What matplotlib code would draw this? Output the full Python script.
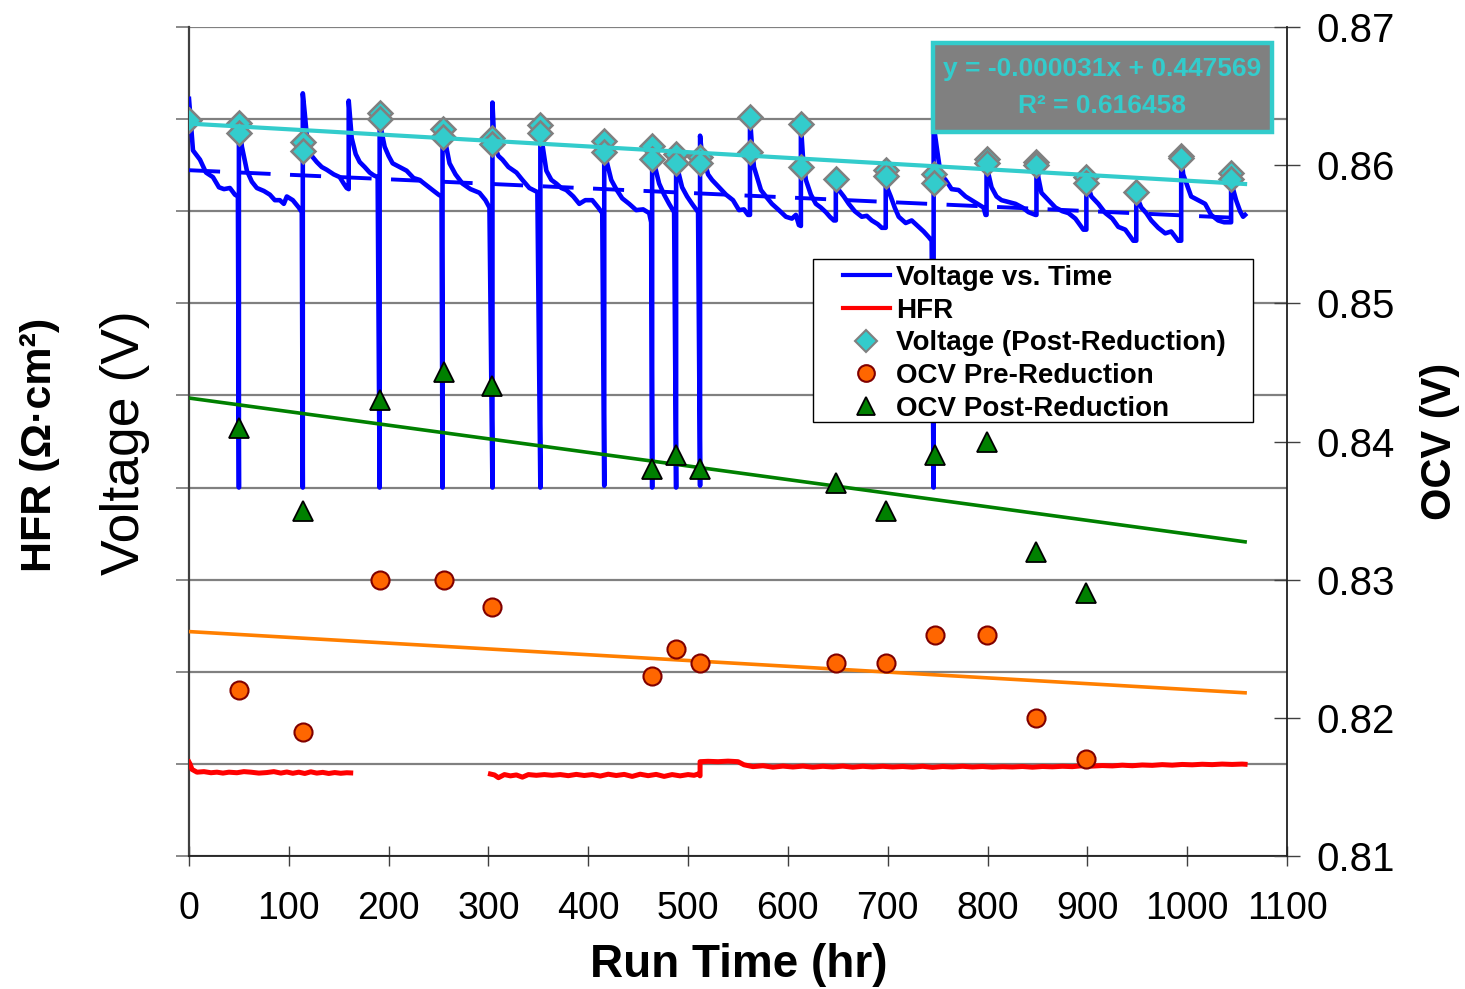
import numpy as np
import matplotlib
matplotlib.use("Agg")
import matplotlib.pyplot as plt
from matplotlib.lines import Line2D
from matplotlib.patches import Rectangle

plt.rcParams['font.family'] = ['Liberation Sans', 'DejaVu Sans']

# ---------------- data ----------------
volt_t = [0, 4, 11, 17, 24, 30, 35, 41, 46, 49, 50, 50,
          53, 58, 63, 68, 75, 81, 86, 91, 95, 98, 104, 110, 113, 114, 114,
          116, 119, 123, 128, 133, 138, 145, 151, 155, 158, 160, 160,
          163, 167, 171, 176, 181, 185, 189, 191, 191,
          193, 196, 200, 204, 211, 218, 225, 231, 238, 244, 250, 253, 254, 254,
          256, 261, 267, 274, 282, 291, 297, 301, 304, 304,
          306, 310, 314, 320, 328, 334, 341, 345, 349, 352, 352,
          353, 358, 363, 368, 373, 378, 385, 391, 397, 404, 410, 414, 416, 416,
          418, 423, 428, 434, 441, 448, 455, 461, 463, 464, 464,
          466, 471, 476, 481, 486, 488, 488,
          489, 494, 499, 504, 510, 512, 512,
          514, 516, 520, 524, 531, 538, 545, 551, 556, 560, 562, 562,
          564, 566, 573, 578, 584, 591, 598, 604, 608, 611, 613, 613,
          615, 618, 623, 628, 633, 638, 642, 646, 648, 648,
          651, 656, 661, 667, 674, 679, 684, 690, 694, 698, 698,
          700, 703, 707, 711, 718, 724, 730, 736, 741, 744, 746, 746,
          749, 753, 758, 764, 771, 778, 784, 790, 796, 798, 799, 799,
          801, 804, 809, 814, 821, 828, 835, 841, 848, 849, 849,
          851, 854, 861, 868, 875, 881, 888, 896, 899, 899,
          901, 904, 911, 918, 925, 931, 938, 946, 949, 949,
          951, 954, 959, 964, 971, 978, 984, 991, 994, 994,
          996, 998, 1004, 1011, 1018, 1024, 1031, 1037, 1043, 1044, 1044,
          1046, 1049, 1053, 1056, 1058]
volt_v = [0.461, 0.433, 0.428, 0.421, 0.4185, 0.413, 0.412, 0.4126, 0.409, 0.408, 0.250, 0.448,
          0.435, 0.422, 0.416, 0.4126, 0.411, 0.409, 0.406, 0.406, 0.404, 0.408, 0.406, 0.402, 0.3995, 0.250, 0.464,
          0.453, 0.435, 0.430, 0.4267, 0.424, 0.4225, 0.420, 0.4185, 0.415, 0.4126, 0.412, 0.460,
          0.4397, 0.431, 0.4267, 0.424, 0.421, 0.4195, 0.4185, 0.250, 0.4505,
          0.443, 0.435, 0.430, 0.426, 0.424, 0.422, 0.418, 0.417, 0.414, 0.4115, 0.409, 0.408, 0.250, 0.4446,
          0.4397, 0.426, 0.420, 0.415, 0.412, 0.410, 0.406, 0.402, 0.250, 0.459,
          0.435, 0.430, 0.428, 0.424, 0.421, 0.417, 0.4126, 0.4115, 0.4104, 0.250, 0.4468,
          0.440, 0.422, 0.417, 0.415, 0.4126, 0.4115, 0.408, 0.404, 0.406, 0.406, 0.402, 0.399, 0.251, 0.438,
          0.428, 0.417, 0.412, 0.407, 0.404, 0.4006, 0.401, 0.399, 0.394, 0.250, 0.435,
          0.426, 0.415, 0.409, 0.404, 0.3995, 0.250, 0.431,
          0.424, 0.413, 0.408, 0.404, 0.3995, 0.251, 0.441,
          0.430, 0.428, 0.420, 0.417, 0.413, 0.409, 0.406, 0.4006, 0.401, 0.398, 0.398, 0.451,
          0.435, 0.424, 0.4115, 0.408, 0.404, 0.4006, 0.397, 0.396, 0.398, 0.3925, 0.392, 0.447,
          0.430, 0.417, 0.409, 0.404, 0.402, 0.3995, 0.397, 0.395, 0.395, 0.418,
          0.4115, 0.408, 0.404, 0.400, 0.397, 0.3975, 0.395, 0.393, 0.391, 0.391, 0.4195,
          0.412, 0.408, 0.402, 0.397, 0.3936, 0.395, 0.392, 0.389, 0.386, 0.384, 0.250, 0.447,
          0.435, 0.420, 0.417, 0.412, 0.4115, 0.408, 0.406, 0.404, 0.402, 0.398, 0.398, 0.4283,
          0.420, 0.413, 0.408, 0.406, 0.405, 0.404, 0.402, 0.3995, 0.398, 0.398, 0.4267,
          0.418, 0.410, 0.406, 0.402, 0.400, 0.399, 0.396, 0.390, 0.390, 0.4185,
          0.413, 0.408, 0.404, 0.399, 0.396, 0.3915, 0.390, 0.384, 0.384, 0.4104,
          0.406, 0.402, 0.399, 0.395, 0.391, 0.388, 0.389, 0.384, 0.384, 0.430,
          0.420, 0.417, 0.408, 0.406, 0.404, 0.398, 0.395, 0.394, 0.394, 0.394, 0.4207,
          0.412, 0.406, 0.400, 0.397, 0.398]

hfr_t = [0, 1, 3, 8, 15, 22, 28, 34, 40, 48, 55, 62, 70, 78, 85, 92, 98, 104, 110, 116,
         122, 128, 134, 140, 146, 152, 158, 162, 230,
         302, 306, 310, 316, 322, 328, 334, 340, 348, 356, 364, 372, 380, 388, 396, 404,
         412, 420, 428, 436, 444, 452, 460, 468, 476, 484, 492, 500, 506, 510, 512,
         512, 520, 530, 540, 550, 556, 565, 575, 585, 595, 605, 615, 625, 635, 645, 655,
         665, 675, 685, 695, 705, 715, 725, 735, 745, 755, 765, 775, 785, 795, 805, 815,
         825, 835, 845, 855, 865, 875, 885, 895, 905, 915, 925, 935, 945, 955, 965, 975,
         985, 995, 1005, 1015, 1025, 1035, 1045, 1055, 1058]
hfr_v = [0.101, 0.100, 0.097, 0.0955, 0.0958, 0.0952, 0.0955, 0.095, 0.0955, 0.0952, 0.0958,
         0.0955, 0.095, 0.0953, 0.0958, 0.095, 0.0956, 0.0949, 0.0955, 0.0948, 0.0957, 0.095,
         0.0954, 0.0948, 0.0953, 0.0949, 0.0952, 0.0951, np.nan,
         0.0945, 0.094, 0.0925, 0.0942, 0.0935, 0.094, 0.0928, 0.0942, 0.0938, 0.0942, 0.0938,
         0.0942, 0.0936, 0.0943, 0.0937, 0.0942, 0.0934, 0.0944, 0.0937, 0.0943, 0.0932,
         0.0944, 0.0936, 0.0943, 0.0932, 0.0942, 0.0935, 0.0942, 0.0938, 0.0945, 0.0935,
         0.1012, 0.1014, 0.1012, 0.1015, 0.1012, 0.0995, 0.0985, 0.099, 0.0982, 0.0988,
         0.0983, 0.0988, 0.0982, 0.0987, 0.0983, 0.0988, 0.0982, 0.0987, 0.0983, 0.0987,
         0.0983, 0.0986, 0.0982, 0.0987, 0.0981, 0.0986, 0.0983, 0.0987, 0.0983, 0.0986,
         0.0982, 0.0985, 0.0983, 0.0986, 0.0982, 0.0986, 0.0984, 0.0987, 0.0985, 0.099,
         0.0988, 0.0991, 0.0989, 0.0993, 0.099, 0.0994, 0.0992, 0.0996, 0.0993, 0.0997,
         0.0995, 0.0998, 0.0996, 0.0999, 0.0997, 0.0999, 0.0998]

post_red_t = [0, 50, 50, 114, 114, 191, 191, 254, 254, 304, 304, 352, 352, 416, 416,
              464, 464, 488, 488, 512, 512, 562, 562, 613, 613, 648, 698, 698, 746, 746,
              799, 799, 849, 849, 899, 899, 949, 994, 994, 1044, 1044]
post_red_v = [0.4495, 0.448, 0.4424, 0.4376, 0.4327, 0.4533, 0.450, 0.4446, 0.4403, 0.440,
              0.4365, 0.4468, 0.4424, 0.4381, 0.4321, 0.4354, 0.4283, 0.431, 0.4262, 0.4294,
              0.4262, 0.4511, 0.432, 0.4473, 0.424, 0.4175, 0.4224, 0.4191, 0.4202, 0.4153,
              0.4283, 0.4262, 0.4267, 0.4251, 0.4185, 0.4153, 0.4104, 0.430, 0.4289, 0.4207,
              0.4175]

ocv_t = [50, 114, 191, 255, 304, 464, 488, 512, 648, 698, 747, 799, 849, 899]
ocv_pre = [0.822, 0.819, 0.830, 0.830, 0.828, 0.823, 0.825, 0.824, 0.824, 0.824,
           0.826, 0.826, 0.820, 0.817]
ocv_post = [0.841, 0.835, 0.843, 0.845, 0.844, 0.838, 0.839, 0.838, 0.837, 0.835,
            0.839, 0.840, 0.832, 0.829]

trend_slope = -0.000031
trend_intercept = 0.447569
trend_r2 = 0.616458

x_ticks = [0, 100, 200, 300, 400, 500, 600, 700, 800, 900, 1000, 1100]
left_ticks = [0.05, 0.10, 0.15, 0.20, 0.25, 0.30, 0.35, 0.40, 0.45, 0.50]
ocv_ticks = [0.81, 0.82, 0.83, 0.84, 0.85, 0.86, 0.87]

legend_labels = ['Voltage vs. Time', 'HFR', 'Voltage (Post-Reduction)',
                 'OCV Pre-Reduction', 'OCV Post-Reduction']

# ---------------- figure ----------------
W, H = 1465, 989
fig = plt.figure(figsize=(W / 100, H / 100), dpi=100)
ax = fig.add_axes([189 / W, 1 - 856 / H, 1098 / W, 829 / H])
ax.set_xlim(0, 1100)
ax.set_ylim(0.05, 0.50)
ax.set_yticks(left_ticks)
ax.set_yticklabels([])
ax.set_xticks(x_ticks)
ax.grid(axis='y', color='#808080', lw=1.6)
ax.set_axisbelow(True)
ax.tick_params(axis='y', direction='out', length=9.5, color='#808080', width=1.3)
ax.tick_params(axis='x', direction='inout', length=15, width=1.0, color='#404040',
               labelsize=27, pad=18)
for s in ['top', 'right']:
    ax.spines[s].set_visible(False)
ax.spines['left'].set_color('#404040')
ax.spines['left'].set_linewidth(1.6)
ax.spines['bottom'].set_color('#202020')
ax.spines['bottom'].set_linewidth(1.3)

t_end = max(volt_t)
x_fit = np.array([0, t_end])

# Voltage trace
ax.plot(volt_t, volt_v, color='#0000FF', lw=3.3, zorder=3, solid_joinstyle='round')
# HFR
ax.plot(hfr_t, hfr_v, color='#FF0000', lw=3.6, zorder=3)
# Voltage trend (dashed)
t_grid = np.arange(0, t_end + 1)
v_grid = np.interp(t_grid, volt_t, volt_v)
vc = np.polyfit(t_grid, v_grid, 1)
ax.plot(x_fit, np.polyval(vc, x_fit), color='#0000FF', lw=2.8, dashes=(8, 5), zorder=3)
# post-reduction voltage
ax.plot(post_red_t, post_red_v, ls='none', marker='D', ms=12.5, mfc='#33CCCC',
        mec='#808080', mew=1.8, zorder=4)
ax.plot(x_fit, trend_intercept + trend_slope * x_fit, color='#33CCCC', lw=3, zorder=5)

ax2 = ax.twinx()
ax2.set_ylim(0.81, 0.87)
ax2.set_yticks(ocv_ticks)
ax2.set_yticklabels([f"{v:.2f}" for v in ocv_ticks])
ax2.tick_params(axis='y', direction='inout', length=19, width=1.0, color='#404040',
                labelsize=29, pad=12)
for s in ['top', 'left', 'bottom']:
    ax2.spines[s].set_visible(False)
ax2.spines['right'].set_color('#202020')
ax2.spines['right'].set_linewidth(1.3)

gc = np.polyfit(ocv_t, ocv_post, 1)
oc = np.polyfit(ocv_t, ocv_pre, 1)
ax2.plot(x_fit, np.polyval(gc, x_fit), color='#008000', lw=2.6, zorder=2)
ax2.plot(x_fit, np.polyval(oc, x_fit), color='#FF7F00', lw=2.6, zorder=2)
ax2.plot(ocv_t, ocv_pre, ls='none', marker='o', ms=13, mfc='#FF6600', mec='#800000',
         mew=1.5, zorder=3)
ax2.plot(ocv_t, ocv_post, ls='none', marker='^', ms=14, mfc='#008000', mec='#000000',
         mew=1.3, zorder=3)

# legend: frame drawn separately, entries placed inside
frame = Rectangle((813 / W, 1 - 422 / H), 440 / W, 163 / H, transform=fig.transFigure,
                  facecolor='white', edgecolor='black', lw=1.0, zorder=19, clip_on=False)
ax2.add_patch(frame)
handles = [
    Line2D([], [], color='#0000FF', lw=3),
    Line2D([], [], color='#FF0000', lw=3),
    Line2D([], [], ls='none', marker='D', ms=11, mfc='#33CCCC', mec='#808080', mew=1.5),
    Line2D([], [], ls='none', marker='o', ms=12, mfc='#FF6600', mec='#800000', mew=1.5),
    Line2D([], [], ls='none', marker='^', ms=13, mfc='#008000', mec='#000000', mew=1.3),
]
leg = ax2.legend(handles, legend_labels, loc='upper left',
                 bbox_to_anchor=(843 / W, 1 - 265 / H), bbox_transform=fig.transFigure,
                 borderaxespad=0, frameon=False, prop={'weight': 'bold', 'size': 20},
                 labelspacing=0.24, handlelength=1.69, handletextpad=0.22,
                 borderpad=0)
leg.set_zorder(20)

# equation box
rect = Rectangle(((933 - 189) / 1098, (856 - 132) / 829), 339 / 1098, 89 / 829,
                 transform=ax2.transAxes, facecolor='#808080', edgecolor='#33CCCC',
                 lw=3.2, zorder=15, clip_on=False)
ax2.add_patch(rect)
cx = (1102 - 189) / 1098
ax2.text(cx, (856 - 69) / 829, f"y = {trend_slope:.6f}x + {trend_intercept:.6f}",
         transform=ax2.transAxes, ha='center', va='center', color='#33CCCC',
         fontsize=19, fontweight='bold', zorder=16)
ax2.text(cx, (856 - 106) / 829, f"R² = {trend_r2:.6f}",
         transform=ax2.transAxes, ha='center', va='center', color='#33CCCC',
         fontsize=19, fontweight='bold', zorder=16)

# axis titles
fig.text(40 / W, 1 - 445 / H, 'HFR (Ω·cm²)', rotation=90, ha='center', va='center',
         fontsize=31, fontweight='bold')
fig.text(125 / W, 1 - 443 / H, 'Voltage (V)', rotation=90, ha='center', va='center',
         fontsize=38.5)
fig.text(1440 / W, 1 - 441 / H, 'OCV (V)', rotation=90, ha='center', va='center',
         fontsize=30, fontweight='bold')
fig.text(739 / W, 1 - 965 / H, 'Run Time (hr)', ha='center', va='center',
         fontsize=33, fontweight='bold')

fig.savefig('out.png', dpi=100)
